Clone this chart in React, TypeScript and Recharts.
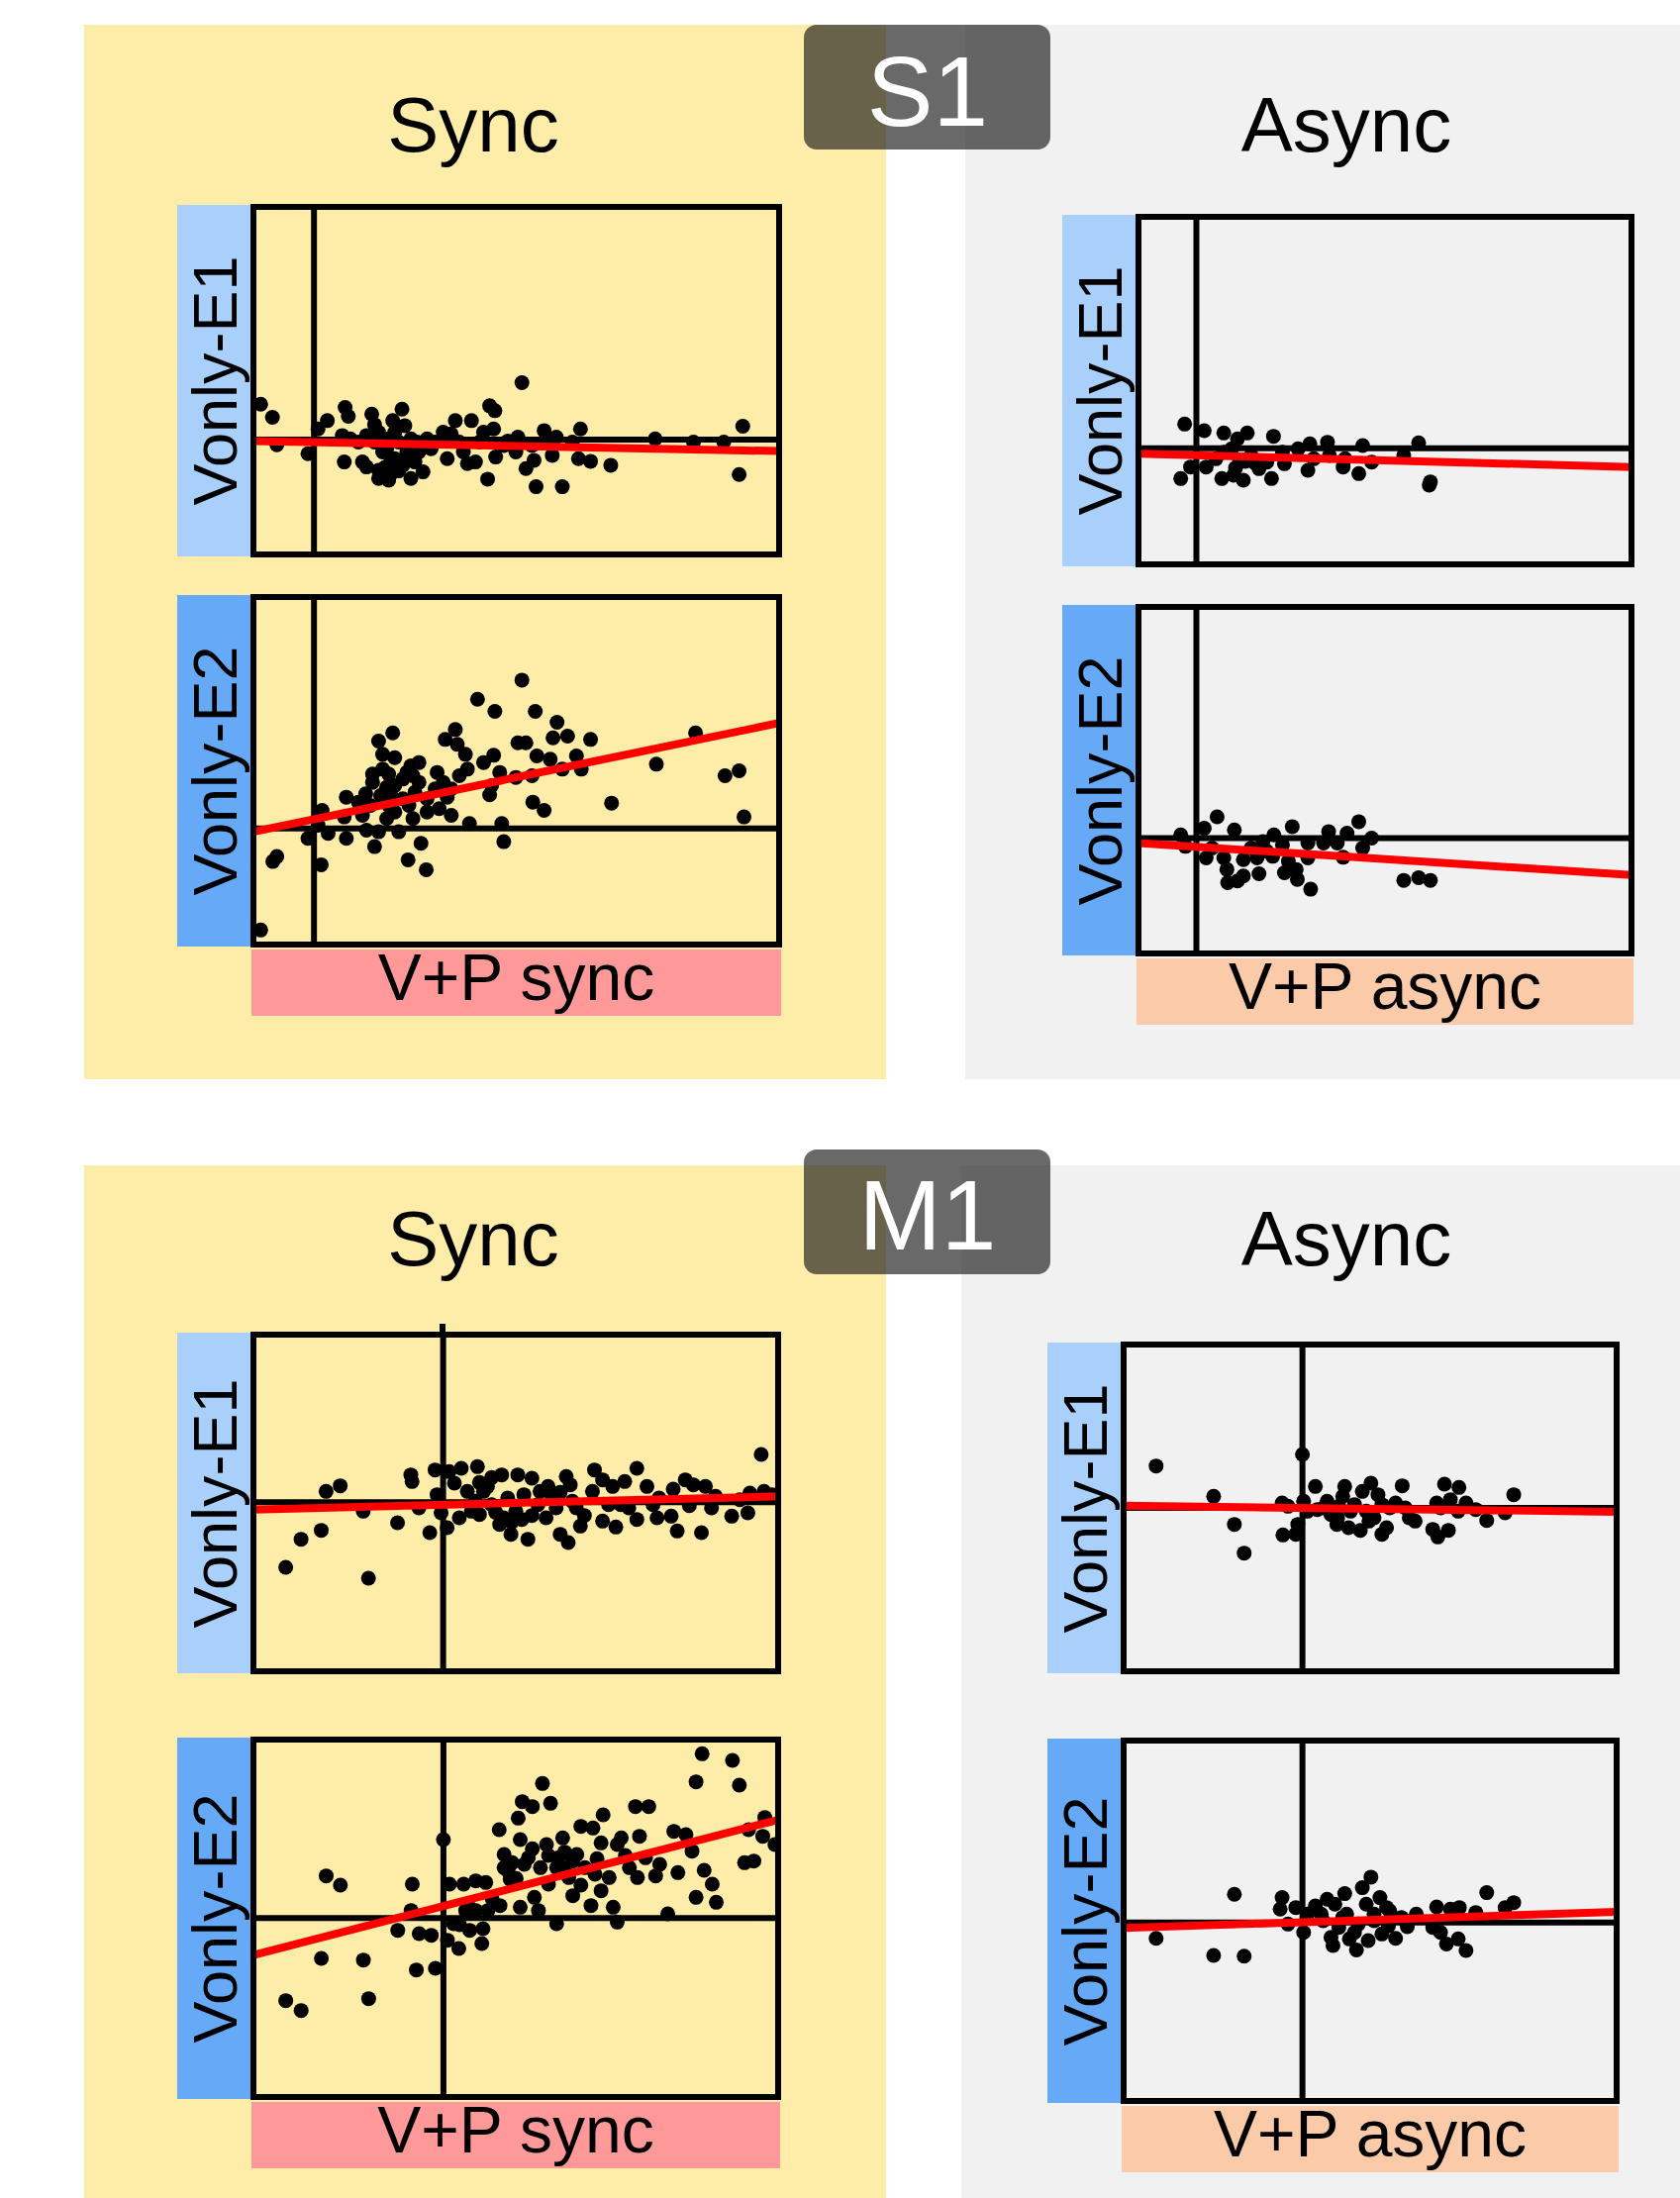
import { ScatterChart, Scatter, XAxis, YAxis } from 'recharts'

type P = [number, number]

// S1, sync condition, Vonly-E1 vs V+P sync
const s1SyncE1: P[] = [
  [-13.2, 10.7], [-10.3, 6.7], [-9.2, -1.6], [-1.5, -4.3], [1, 3.2], [3.3, 5.7], [7.7, 9.7], [8.5, 7],
  [7.5, -6.8], [12, -6.8], [13, -8.3], [14.3, 7.7], [16, -9.3], [18.5, -12.3], [16, -11.8], [19.5, 5.7],
  [21.8, 9.2], [22.5, 4.2], [20, 2.2], [16, 2.2], [13, 1.2], [7, 1.2], [18, -2.8], [20, -5.8],
  [22, -7.8], [24, -11.8], [25, -6.8], [27, -9.8], [26, -3.8], [28, 0.2], [30, -0.8], [33, -5.8],
  [35, 5.7], [34, 1.7], [37, -3.8], [39, 5.7], [40, -6.8], [38, -7.3], [43.5, 10.2], [44.8, 8.7],
  [44.5, 3.2], [42, 2.2], [45, -5.3], [43, -12], [50, -3.8], [51.5, 17.2], [50.5, 0.7], [55, -14.3],
  [57, 2.7], [54.5, -6.3], [52.5, -8.8], [59, -4.8], [60, 0.7], [61.5, -14.3], [66, 3.2], [65.5, -5.8],
  [68.5, -6.6], [73.5, -7.8], [84.5, 0.2], [94, -0.8], [101.5, -0.8], [106.2, 4], [105.3, -10.6],
  [15, -0.8], [17, -3.8], [21, -0.8], [24, 0.2], [29, -2.8], [32, 2.2], [36, -0.8], [41, -0.8],
  [47, -1.8], [54, -1.8], [58, -0.8], [64, -0.8], [11, -0.8], [9, 0.2], [19, -6.8], [23, -3.8],
  [25.5, -0.8], [18.5, 0.2], [17.5, -8.5], [21, -9.5], [19, -10.5], [23, -6], [15, 4.5], [48, -0.5],
]

// S1, sync condition, Vonly-E2 vs V+P sync
const s1SyncE2: P[] = [
  [-13.2, -30.8], [-10.2, -10], [-9.2, -8.5], [-1.5, -3], [1.8, -11], [2, 5.5], [1, 1], [3.5, -1.5],
  [8, -3], [7.5, 3.5], [8, 9.5], [12, 4], [12.8, 10.5], [13, -0.5], [14.5, 16.5], [14.5, 14],
  [15, -5.5], [16, 26.5], [17, 22.5], [19.5, 29], [20, 21.5], [18.5, 16.5], [18, 12.5], [16.5, 10],
  [16, -1], [18.5, 7], [21, -1], [23, 17], [24, 19], [26, 20], [23.5, 7], [24.5, 3],
  [26.5, -4.5], [23.3, -9.5], [27.8, -12.5], [26, 14], [28, 9], [30.5, 17], [32.5, 27], [35, 30],
  [35.5, 25.5], [37.5, 22.5], [34, 4], [33, 9.5], [36, 16], [38.5, 1.5], [38, 18], [40.5, 39.2],
  [42, 20], [44.5, 22.2], [43.5, 10.2], [44, 13], [46, 17], [44.8, 35.5], [46.5, 1.5], [47, -4],
  [50.5, 26], [51.5, 45], [52.5, 26], [50, 15.5], [54, 16], [54.2, 8], [57, 5.5], [54.8, 35.5],
  [55.2, 22], [58.5, 21], [59.2, 27.5], [60.2, 32.2], [61.5, 18], [62.8, 28], [65, 22], [66.2, 18],
  [68.5, 27], [73.7, 7.7], [84.8, 19.5], [94.5, 29], [101.8, 16], [105.3, 17.5], [106.5, 3.5],
  [20, 13], [22, 9], [25, 11], [28, 5], [30, 12], [34, 12], [18, 3], [14, 7], [11, 8], [20, 5],
  [22, 15], [24.5, 16], [17, 18], [31, 6], [32, 14], [19, 10],
]

// S1, async condition, Vonly-E1 vs V+P async
const s1AsyncE1: P[] = [
  [-3, 7.3], [-4, -9.2], [-1.5, -5.7], [2, 5.3], [2.5, -5.7], [7, 4.6], [6.5, -9.2], [9.5, -8.2],
  [12, -9.7], [13, 4.6], [10.5, 2.8], [9, -0.2], [11, -4.2], [14, -2.2], [16, -6.2], [18, -4.2],
  [19.7, 3.6], [19.2, -9.2], [22.5, -4.7], [26, -0.2], [29, 1.3], [28.5, -6.7], [33.5, 1.8], [34, -2.2],
  [37.5, -5.7], [38, -3.2], [41.5, -7.7], [42.5, 0.8], [44.8, -4.2], [53, -2.2], [56.8, 1.6], [59.8, -10.2],
  [59.5, -11.2], [5, -3.2], [7, -1.2], [30, -3.2], [22, -1.2], [10, -6], [12.5, -4], [15, -4.5],
]

// S1, async condition, Vonly-E2 vs V+P async
const s1AsyncE2: P[] = [
  [-4, 1], [-2.8, -2.5], [2, 3], [2.5, -6], [5.3, 6.5], [4, -3], [7, -6], [7.8, -9.5],
  [8, -13.5], [10.5, -13], [12, -11.5], [9.7, 2.5], [12, -6.5], [16, -10.8], [15.5, -6], [17, -1],
  [19.8, 1], [19.5, -5.5], [22, -2], [22.5, -10.5], [24.5, 3.5], [23.5, -7], [25.5, -9.5], [25.8, -12.5],
  [28.5, -1.5], [28.5, -6], [29.2, -15.5], [32.5, -1.5], [33.8, 2], [36, -1.5], [37.5, -5.8], [38.5, 1.5],
  [41.5, 5], [42.5, -3], [44.8, 0], [53, -12.8], [56.8, -12], [59.8, -12.8], [14, -3], [18, -4],
]

// M1, sync condition, Vonly-E1 vs V+P sync
const m1SyncE1: P[] = [
  [-39, -19.7], [-35.2, -11.2], [-30.2, -8.5], [-29, 3.3], [-25.5, 5], [-19.8, -2.7], [-18.5, -23], [-11.3, -6.2],
  [-8, 8.3], [-7.7, 6.3], [-6, -1.7], [-3.3, -9.2], [-2, 9.8], [-1.5, 2.3], [-0.5, -3.2], [1, -7.7],
  [1.5, 9.3], [2.8, 5.8], [4, -4.7], [4.5, 10.3], [6, 3.3], [7, -2.7], [8.5, 10.8], [9, -3.7],
  [11, 4.8], [12, 7.5], [14.5, 8.3], [14, -6.7], [16.8, -9.7], [18.5, 8.3], [18, -2.7], [19.5, -5.2],
  [21, -11.2], [22, 7.3], [23.5, -0.7], [25.5, -4.7], [26, 4.8], [28, -1.7], [29, -9.7], [31, -12.2],
  [30.5, 7.8], [31.5, 5.3], [33, -1.7], [34, -7.2], [37, 3.3], [37.5, 9.8], [39.5, 6.8], [39.5, -5.7],
  [42, 4.8], [42.8, -7.5], [45, 6.3], [46, -1.7], [48, 10.3], [48, -5.2], [50.5, 4.8], [53, -4.7],
  [53.5, 1.3], [56.5, -4.2], [58, -8.7], [60, 6.8], [62, 5.3], [64, -9.2], [65, 4.8], [66.5, -1.7],
  [67.5, 1.8], [71.5, -4.2], [73.5, 0.8], [75.5, -3.2], [76, 2.8], [78.8, 14.5], [79.5, 3.3], [81.5, 2.3],
  [8, 0.3], [12, -0.7], [16, 1.3], [20, 2.3], [27, 1.3], [32, 0.3], [41, -0.7], [44, -0.7],
  [52, -0.7], [15, -4.7], [10, 3.3], [24, 3.3], [13, -3], [17, -6], [22, -4], [35, -4],
  [9, 6], [29, 3], [57, 4], [61, -1],
]

// M1, sync condition, Vonly-E2 vs V+P sync
const m1SyncE2: P[] = [
  [-39, -25], [-35.2, -28], [-30.2, -12.2], [-29, 12.8], [-25.5, 10], [-19.8, -12.7], [-18.5, -24.4], [-11.3, -3.7],
  [-7.7, 10.3], [-8, 2.3], [-6.7, -15.7], [-6, -4.7], [-3, -5.2], [-2, -15.2], [0, 23.8], [1, -6.7],
  [1.5, 10.3], [2.5, -1.7], [3.8, -9.2], [5, 10.3], [5.5, 2.3], [6.5, -3.7], [8, 11.3], [9.5, -7.7],
  [9.8, -3.2], [10.5, 10.8], [11, 2.3], [14, 3.8], [13.8, 26.8], [15, 19.3], [15, 15.3], [16.5, 11.8],
  [17, 16.8], [18.5, 30.3], [19, 3.3], [19.5, 35.3], [19, 23.8], [22, 33.8], [21, 18.3], [22.5, 6.3],
  [23.5, 2.3], [24.5, 40.8], [25.5, 22.3], [26, 10.3], [26.5, 34.8], [28, -1.7], [28.5, 18.3], [29.5, 24.3],
  [31, 12.3], [32, 6.8], [33, 19.3], [34, 27.8], [36.5, 3.8], [37, 27.3], [37.5, 13.3], [39, 22.8],
  [39.5, 31.3], [39, 8.3], [41, 12.3], [42, 3.3], [43, -1.2], [44, 24.3], [46, 15.3], [47.5, 33.8],
  [48, 12.3], [48.5, 24.8], [50.8, 33.8], [50, 18.3], [52.5, 12.8], [53.5, 16.3], [55.5, 1.3], [57, 26.3],
  [58, 13.8], [60, 25.3], [61.5, 20.3], [62.5, 41.3], [62.5, 6.3], [64, 49.8], [64.5, 14.5], [66.5, 10.3],
  [67.5, 4.8], [71.5, 47.8], [73.2, 40.3], [74.5, 16.8], [75.5, 26.8], [76.8, 17.3], [79, 24.8], [79.5, 30.5],
  [82, 22.3], [16, 14.3], [20, 16.3], [24, 15.3], [28, 15.3], [32, 17.3], [35, 15.3], [43, 22.3],
  [8, 2.3], [6, 4.3], [18, 12], [22, 21], [26, 19], [30, 20], [34, 10], [45, 19],
  [12, 6], [4, -2], [30, 15], [38, 18],
]

// M1, async condition, Vonly-E1 vs V+P async
const m1AsyncE1: P[] = [
  [-37.4, 12.7], [-22.7, 3.5], [-17.4, -5], [-14.9, -13.7], [-5.2, 1.5], [-5, -8.2], [-3.7, 0.5], [-1.7, -8],
  [-1.2, -5], [0, 16.2], [0.3, 2], [1.3, -1], [3.3, 6.5], [3.8, -0.5], [6.3, 2], [7.3, -2],
  [8.8, -5], [10.3, 3.5], [10.8, 6.5], [11.8, -6], [12.3, -1], [14.8, -6.8], [15.3, 5], [17.5, 7.5],
  [18.3, -3], [19.3, 4], [20.3, -8], [21.5, -6], [22.3, 0], [23.8, 1.5], [25.5, 6.7], [26.3, 0],
  [27.3, -3], [28.8, -4], [33.3, -6.5], [34.3, 1.5], [34.6, -8.8], [36.3, 7.2], [37.3, -6.8], [37.8, 2.5],
  [39.8, -1], [40, 6.2], [41.8, 1.5], [44.3, -0.5], [47.1, -3.8], [51.8, -1.5], [54, 4],
  [5.3, 0], [9.3, 0.5], [16.3, -1], [20.3, 1], [13.3, 1], [35.3, 0], [9, -3], [17, -4],
]

// M1, async condition, Vonly-E2 vs V+P async
const m1AsyncE2: P[] = [
  [-37.4, -4.8], [-22.7, -10], [-14.9, -10.2], [-17.4, 8.5], [-5.2, 7.5], [-5.7, 4], [-3.7, -0.5], [-1.7, 4.5],
  [0.3, -3], [1.3, 2.5], [3.3, 5], [4.8, 2.5], [6.3, 7], [7.3, -4.5], [7.8, -7], [8.3, 5.5],
  [9.3, -1.5], [10.8, 8.7], [11.3, 2.5], [13.3, -3], [13.8, -8.3], [15.3, 10.5], [16.3, 5.5], [16.8, -5.5],
  [17.5, 13.7], [18.3, 0.5], [19.8, 7.5], [20.3, -3.5], [21.5, 4.5], [22.3, 3.5], [23.8, -4.8], [25.3, 1.5],
  [26.8, -1.3], [29.1, 2.5], [33.3, -1.5], [34.3, 4.7], [35.3, -3], [36.8, -6.5], [37.8, 4], [39.8, -5],
  [40.1, 4.5], [41.8, -8.5], [44.3, 3], [47.1, 9], [51.8, 4.5], [54, 6],
  [5.3, 0.5], [10.3, 1.5], [14.3, -0.5], [18.3, 2.5], [26.3, 0.5], [12, -5], [22, -1],
]

// regression line end points (red)
const fitS1SyncE1: P[] = [[-15, -0.5], [115.2, -3.5]]
const fitS1SyncE2: P[] = [[-15, -1], [115.2, 32]]
const fitS1AsyncE1: P[] = [[-14.8, -1.7], [111.2, -5.7]]
const fitS1AsyncE2: P[] = [[-14.8, -1.5], [111.2, -11.2]]
const fitM1SyncE1: P[] = [[-47, -2.2], [83, 1.8]]
const fitM1SyncE2: P[] = [[-47, -11.2], [82.8, 29.8]]
const fitM1AsyncE1: P[] = [[-45.7, 0.7], [80.3, -1.2]]
const fitM1AsyncE2: P[] = [[-45.7, -1.7], [80.3, 3.2]]

const FONT = '"Liberation Sans", Arial, sans-serif'
const E1_COLOR = '#a9d0fb'
const E2_COLOR = '#66aaf7'
const SYNC_X_COLOR = '#ff9898'
const ASYNC_X_COLOR = '#fbcaa9'

type PanelCfg = {
  left: number
  top: number
  width: number
  height: number
  xDomain: [number, number]
  yDomain: [number, number]
  points: P[]
  fit: P[]
  yLabel: string
  yColor: string
  xLabel?: string
  xColor?: string
}

const panels: PanelCfg[] = [
  { left: 256, top: 209, width: 531, height: 351, xDomain: [-15, 115.2], yDomain: [-34.8, 70.4], points: s1SyncE1, fit: fitS1SyncE1, yLabel: 'Vonly-E1', yColor: E1_COLOR },
  { left: 256, top: 603, width: 531, height: 351, xDomain: [-15, 115.2], yDomain: [-35.2, 70.2], points: s1SyncE2, fit: fitS1SyncE2, yLabel: 'Vonly-E2', yColor: E2_COLOR, xLabel: 'V+P sync', xColor: SYNC_X_COLOR },
  { left: 1150, top: 219, width: 498, height: 351, xDomain: [-14.8, 111.2], yDomain: [-35.2, 70.1], points: s1AsyncE1, fit: fitS1AsyncE1, yLabel: 'Vonly-E1', yColor: E1_COLOR },
  { left: 1150, top: 613, width: 498, height: 350, xDomain: [-14.8, 111.2], yDomain: [-35, 70.2], points: s1AsyncE2, fit: fitS1AsyncE2, yLabel: 'Vonly-E2', yColor: E2_COLOR, xLabel: 'V+P async', xColor: ASYNC_X_COLOR },
  { left: 256, top: 1348, width: 530, height: 340, xDomain: [-47, 83], yDomain: [-51.2, 50.8], points: m1SyncE1, fit: fitM1SyncE1, yLabel: 'Vonly-E1', yColor: E1_COLOR },
  { left: 256, top: 1757, width: 530, height: 361, xDomain: [-47, 82.8], yDomain: [-54.2, 54.1], points: m1SyncE2, fit: fitM1SyncE2, yLabel: 'Vonly-E2', yColor: E2_COLOR, xLabel: 'V+P sync', xColor: SYNC_X_COLOR },
  { left: 1135, top: 1358, width: 498, height: 330, xDomain: [-45.7, 80.3], yDomain: [-49.5, 49.5], points: m1AsyncE1, fit: fitM1AsyncE1, yLabel: 'Vonly-E1', yColor: E1_COLOR },
  { left: 1135, top: 1758, width: 498, height: 364, xDomain: [-45.7, 80.3], yDomain: [-54, 55], points: m1AsyncE2, fit: fitM1AsyncE2, yLabel: 'Vonly-E2', yColor: E2_COLOR, xLabel: 'V+P async', xColor: ASYNC_X_COLOR },
]

const Dot = (props: any) => <circle cx={props.cx} cy={props.cy} r={7.5} fill="#000" />
const NoDot = () => <g />

function Panel({ cfg }: { cfg: PanelCfg }) {
  const { left, top, width, height, xDomain, yDomain, points, fit, yLabel, yColor, xLabel, xColor } = cfg
  const data = points.map(([x, y]) => ({ x, y }))
  const fitData = fit.map(([x, y]) => ({ x, y }))
  // zero axes spanning the whole domain
  const zeroH = [{ x: xDomain[0], y: 0 }, { x: xDomain[1], y: 0 }]
  const zeroV = [{ x: 0, y: yDomain[0] }, { x: 0, y: yDomain[1] }]
  return (
    <>
      <div
        style={{
          position: 'absolute', left: left - 77, top: top - 2, width: 77, height: height + 4,
          background: yColor, display: 'flex', alignItems: 'center', justifyContent: 'center',
        }}
      >
        <span style={{ transform: 'rotate(-90deg)', whiteSpace: 'nowrap', fontSize: 63, lineHeight: '63px', fontFamily: FONT }}>
          {yLabel}
        </span>
      </div>
      {xLabel && (
        <div
          style={{
            position: 'absolute', left: left - 2, top: top + height + 5, width: width + 4, height: 67,
            background: xColor,
          }}
        >
          <div style={{ marginTop: -5, fontSize: 66, lineHeight: '66px', textAlign: 'center', fontFamily: FONT }}>{xLabel}</div>
        </div>
      )}
      <div style={{ position: 'absolute', left, top }}>
        <ScatterChart width={width} height={height} margin={{ top: 0, right: 0, bottom: 0, left: 0 }}>
          <XAxis type="number" dataKey="x" domain={xDomain} hide allowDataOverflow />
          <YAxis type="number" dataKey="y" domain={yDomain} hide allowDataOverflow />
          <Scatter data={zeroH} shape={NoDot} line={{ stroke: '#000', strokeWidth: 6 }} isAnimationActive={false} />
          <Scatter data={zeroV} shape={NoDot} line={{ stroke: '#000', strokeWidth: 6 }} isAnimationActive={false} />
          <Scatter data={data} shape={Dot} isAnimationActive={false} />
          <Scatter data={fitData} shape={NoDot} line={{ stroke: '#ff0000', strokeWidth: 8 }} isAnimationActive={false} />
        </ScatterChart>
      </div>
      <div
        style={{
          position: 'absolute', left: left - 3, top: top - 3, width: width + 6, height: height + 6,
          border: '6px solid #000', boxSizing: 'border-box', pointerEvents: 'none',
        }}
      />
    </>
  )
}

function Title({ text, cx, top }: { text: string; cx: number; top: number }) {
  return (
    <div style={{ position: 'absolute', left: cx - 200, top, width: 400, textAlign: 'center', fontSize: 78, lineHeight: '78px', fontFamily: FONT }}>
      {text}
    </div>
  )
}

function Badge({ text, top, height, textTop }: { text: string; top: number; height: number; textTop: number }) {
  return (
    <>
      <div style={{ position: 'absolute', left: 812, top, width: 249, height, borderRadius: 13, background: 'rgba(20,20,20,0.64)' }} />
      <div style={{ position: 'absolute', left: 812, top: textTop, width: 250, textAlign: 'center', color: '#fff', fontSize: 100, lineHeight: '100px', fontFamily: FONT }}>
        {text}
      </div>
    </>
  )
}

export default function App() {
  return (
    <div style={{ position: 'absolute', left: 0, top: 0, width: 1697, height: 2220, background: '#fff', overflow: 'hidden', fontFamily: FONT }}>
      <div style={{ position: 'absolute', left: 85, top: 25, width: 810, height: 1065, background: '#feeca9' }} />
      <div style={{ position: 'absolute', left: 975, top: 25, width: 722, height: 1065, background: '#f1f1f1' }} />
      <div style={{ position: 'absolute', left: 85, top: 1177, width: 810, height: 1043, background: '#feeca9' }} />
      <div style={{ position: 'absolute', left: 971, top: 1177, width: 726, height: 1043, background: '#f1f1f1' }} />

      <Title text="Sync" cx={478} top={87} />
      <Title text="Async" cx={1360} top={87} />
      <Title text="Sync" cx={478} top={1212} />
      <Title text="Async" cx={1360} top={1212} />

      {panels.map((p, i) => (
        <Panel key={i} cfg={p} />
      ))}
      <div style={{ position: 'absolute', left: 444, top: 1337, width: 6, height: 12, background: '#000' }} />

      <Badge text="S1" top={25} height={126} textTop={42} />
      <Badge text="M1" top={1161} height={126} textTop={1177} />
    </div>
  )
}
